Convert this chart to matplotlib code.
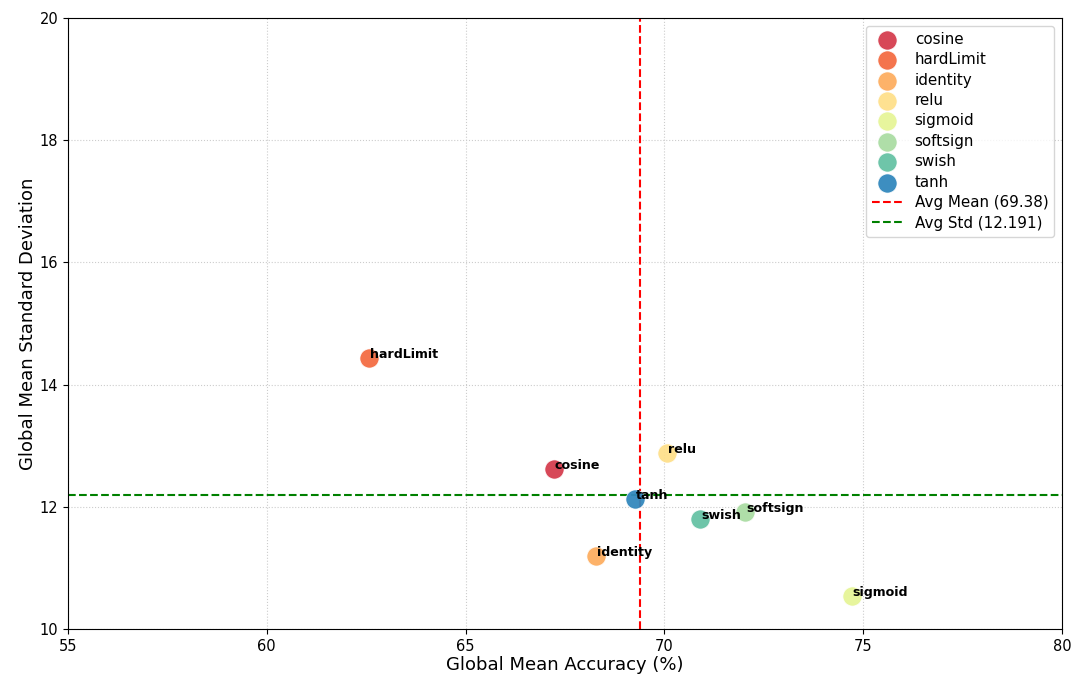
import numpy as np
from matplotlib import pyplot as plt

# activation functions and their global scores
names = ["cosine", "hardLimit", "identity", "relu", "sigmoid", "softsign", "swish", "tanh"]
mean_acc = [67.22, 62.57, 68.28, 70.07, 74.72, 72.03, 70.90, 69.26]
mean_std = [12.62, 14.44, 11.20, 12.88, 10.54, 11.92, 11.80, 12.13]

avg_mean = np.mean(mean_acc)
avg_std = np.mean(mean_std)

# Spectral, 8 classes
colors = ["#d53e4f", "#f46d43", "#fdae61", "#fee08b",
          "#e6f598", "#abdda4", "#66c2a5", "#3288bd"]

fig = plt.figure(figsize=(10.73, 6.75), dpi=100)
ax = fig.add_axes([68 / 1073, 1 - 629 / 675, 994 / 1073, 611 / 675])

for i in range(len(names)):
    ax.scatter(mean_acc[i], mean_std[i], s=190, color=colors[i], alpha=0.95,
               edgecolors="white", linewidths=0.5, label=names[i], zorder=3)
    ax.text(mean_acc[i] + 0.02, mean_std[i], names[i], fontsize=9.1,
            weight="bold", zorder=4)

ax.axvline(avg_mean, color="red", linestyle="--", linewidth=1.5,
           label="Avg Mean ({:.2f})".format(avg_mean))
ax.axhline(avg_std, color="green", linestyle="--", linewidth=1.5,
           label="Avg Std ({:.3f})".format(avg_std))

ax.set_xlim(55, 80)
ax.set_ylim(10, 20)
ax.tick_params(labelsize=10.5)
ax.set_xlabel("Global Mean Accuracy (%)", fontsize=13, labelpad=2)
ax.set_ylabel("Global Mean Standard Deviation", fontsize=13, labelpad=2)
ax.grid(True, linestyle=":", color="#cccccc", linewidth=0.8)
ax.legend(loc="upper right", fontsize=10.9, labelspacing=0.36)

fig.savefig("out.png", dpi=100)
